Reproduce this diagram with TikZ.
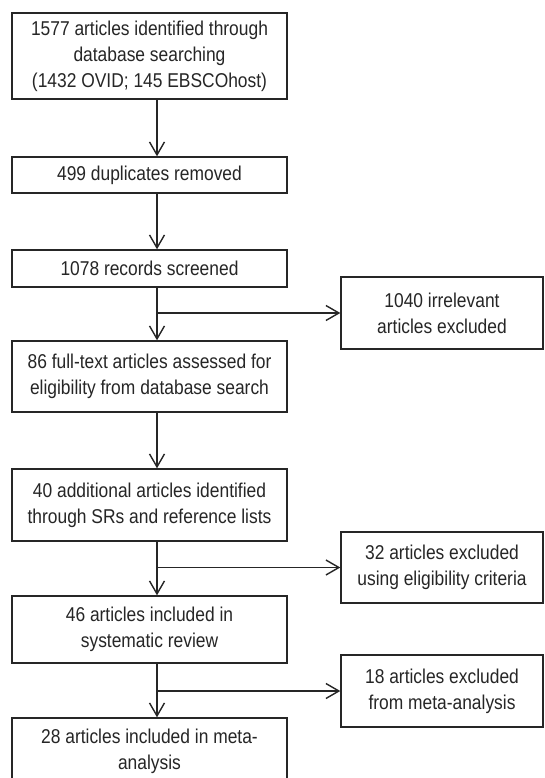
\documentclass[tikz,border=0pt]{standalone}
\usepackage{fontspec}
\setmainfont{Liberation Sans}[FakeStretch=0.87]
\usetikzlibrary{arrows.meta,calc}
\definecolor{ink}{HTML}{262626}
\begin{document}
\begin{tikzpicture}[x=1pt,y=-1pt,
  box/.style={draw=ink, line width=1.4pt, text=ink, align=center, inner sep=0pt,
    font=\fontsize{20}{26}\selectfont, minimum width=#1},
  box/.default=275pt,
  conn/.style={draw=ink, line width=1.4pt, -{Straight Barb[length=13pt,width=15pt,line width=1.4pt]}}]
\clip (0,0) rectangle (544,778);
\fill[white] (0,0) rectangle (544,778);
\coordinate (spine) at (157,0);
\node[box, minimum height=86pt] (n1) at (149.5,56) {1577 articles identified through\\database searching\\(1432 OVID; 145 EBSCOhost)};
\node[box, minimum height=36pt] (n2) at (149.5,175) {499 duplicates removed};
\node[box, minimum height=37pt] (n3) at (149.5,268.5) {1078 records screened};
\node[box, minimum height=71pt] (n4) at (149.5,376.5) {86 full-text articles assessed for\\eligibility from database search};
\node[box, minimum height=72pt] (n5) at (149.5,505) {40 additional articles identified\\through SRs and reference lists};
\node[box, minimum height=67pt] (n6) at (149.5,629.5) {46 articles included in\\systematic review};
\node[box, minimum height=67pt] (n7) at (149.5,751.5) {28 articles included in meta-\\analysis};
\node[box=202pt, minimum height=72pt] (r1) at (442,313) {1040 irrelevant\\articles excluded};
\node[box=202pt, minimum height=71pt] (r2) at (442,567.5) {32 articles excluded\\using eligibility criteria};
\node[box=202pt, minimum height=72pt] (r3) at (442,691) {18 articles excluded\\from meta-analysis};
\draw[conn] (n1.south -| spine) -- (n2.north -| spine);
\draw[conn] (n2.south -| spine) -- (n3.north -| spine);
\draw[conn] (n3.south -| spine) -- (n4.north -| spine);
\draw[conn] (n4.south -| spine) -- (n5.north -| spine);
\draw[conn] (n5.south -| spine) -- (n6.north -| spine);
\draw[conn] (n6.south -| spine) -- (n7.north -| spine);
\draw[conn] (r1.west -| spine) -- (r1.west);
\draw[conn] (r2.west -| spine) -- (r2.west);
\draw[conn] (r3.west -| spine) -- (r3.west);
\end{tikzpicture}
\end{document}
